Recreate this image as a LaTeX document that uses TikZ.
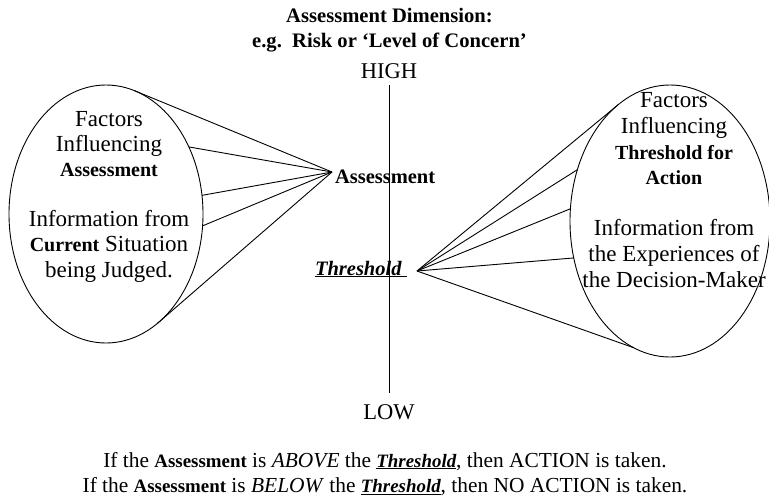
\documentclass[tikz,border=0pt]{standalone}
\usepackage{fontspec}
\setmainfont{Liberation Serif}
\usetikzlibrary{shapes.geometric}

% bold words are set a little smaller than the surrounding roman text
\newcommand\bword[2]{{\fontsize{#1}{25}\selectfont\bfseries #2}}

\begin{document}
\begin{tikzpicture}[x=1pt,y=-1pt,
  every node/.style={inner sep=0pt, outer sep=0pt},
  wire/.style={line width=0.9pt},
  bubble/.style={ellipse, draw, line width=0.9pt, inner sep=0pt, outer sep=0pt},
  headline/.style={anchor=base, font=\fontsize{20.6}{25}\selectfont\bfseries},
  scalelabel/.style={font=\fontsize{22.5}{25}\selectfont},
  bubbletext/.style={align=center, font=\fontsize{23}{25.2}\selectfont},
  ruleline/.style={anchor=base, font=\fontsize{21.4}{25}\selectfont}]
\useasboundingbox (0,0) rectangle (769,499);

% heading of the scale
\node[headline] (head1) at (389.5,22) {Assessment Dimension:};
\node[headline] (head2) at (389.5,47) {e.g.\ \ Risk or ‘Level of Concern’};

% the vertical scale
\node[scalelabel] (high) at (389,71) {HIGH};
\node[scalelabel] (low) at (389,412) {LOW};
\coordinate (axtop) at (389,85);
\coordinate (axbot) at (389,393);
\draw[wire] (axtop) -- (axbot);

% points on the scale
\coordinate (apt) at (332,172);
\coordinate (tpt) at (417,271);
\node[anchor=base west] (alabel) at (335,183) {\bword{20.5}{Assessment}};
\node[anchor=base west] (tlabel) at (315,275)
  {\underline{\bword{20.5}{\itshape Threshold}\kern5pt}};

% left bubble: factors behind the assessment
\node[bubble, minimum width=194pt, minimum height=258pt] (lbub) at (106,214) {};
\node[bubbletext] (ltext) at (109,196.5)
  {Factors\\Influencing\\\bword{20}{Assessment}\\[25pt]
   Information from\\\bword{20}{Current} Situation\\being Judged.};

% right bubble: factors behind the threshold
\node[bubble, minimum width=200pt, minimum height=272pt] (rbub) at (670,221) {};
\node[bubbletext, font=\fontsize{23}{25.6}\selectfont] (rtext) at (674,190)
  {Factors\\Influencing\\\bword{20}{Threshold for}\\\bword{20}{Action}\\[25.6pt]
   Information from\\the Experiences of\\the Decision-Maker};

% fans of lines into the two points
\foreach \a in {77.8,39.8,11.8,-7.7,-65.8}
  \draw[wire] (lbub.\a) -- (apt);
\foreach \a in {114.9,151.8,173.2,201.4,254.7}
  \draw[wire] (rbub.\a) -- (tpt);

% decision rule
\node[ruleline] (rule1) at (385,467)
  {If the \bword{18.9}{Assessment} is \textit{ABOVE} the
   \underline{\bword{18.9}{\itshape Threshold}}, then ACTION is taken.};
\node[ruleline] (rule2) at (385,492.5)
  {If the \bword{18.9}{Assessment} is \textit{BELOW} the
   \underline{\bword{18.9}{\itshape Threshold}}, then NO ACTION is taken.};
\end{tikzpicture}
\end{document}
